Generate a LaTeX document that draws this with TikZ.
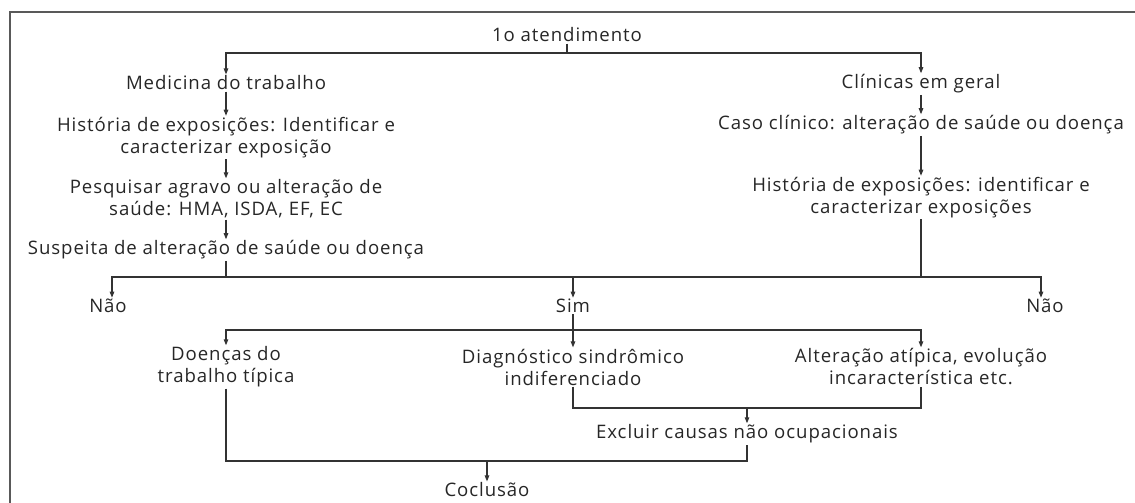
\documentclass[tikz,border=0pt]{standalone}
\usepackage{fontspec}
\setmainfont{Open Sans}[LetterSpace=5]
\usetikzlibrary{arrows.meta}
\begin{document}
\begin{tikzpicture}[x=1pt,y=-1pt,
  lbl/.style={inner sep=1.2pt, align=center, font=\fontsize{18.6}{22}\selectfont, text=black!85},
  ln/.style={line width=1.1pt, draw=black!80},
  arr/.style={ln, -{Triangle[length=6pt,width=4.5pt]}},
]
\useasboundingbox (0,0) rectangle (1135,503);
\draw[line width=2pt, black!65] (9.5,520) -- (9.5,12) -- (1145,12);

\node[lbl] (top) at (567,35) {1o atendimento};
\node[lbl] (med) at (226,83) {Medicina do trabalho};
\node[lbl] (his1) at (226,137.5) {História de exposições: Identificar e\\caracterizar exposição};
\node[lbl] (pes) at (226,199) {Pesquisar agravo ou alteração de\\saúde: HMA, ISDA, EF, EC};
\node[lbl] (sus) at (226,250) {Suspeita de alteração de saúde ou doença};
\node[lbl] (cli) at (921,84) {Clínicas em geral};
\node[lbl] (caso) at (921,125) {Caso clínico: alteração de saúde ou doença};
\node[lbl] (his2) at (921,197.5) {História de exposições: identificar e\\caracterizar exposições};
\node[lbl] (nao1) at (108,306) {Não};
\node[lbl] (sim) at (573,306) {Sim};
\node[lbl] (nao2) at (1045,306) {Não};
\node[lbl] (doe) at (226,367) {Doenças do\\trabalho típica};
\node[lbl] (dia) at (573,367) {Diagnóstico sindrômico\\indiferenciado};
\node[lbl] (alt) at (921,367) {Alteração atípica, evolução\\incaracterística etc.};
\node[lbl] (exc) at (747,434) {Excluir causas não ocupacionais};
\node[lbl] (coc) at (487,490) {Coclusão};

\coordinate (j1) at (567,53);
\draw[ln] (top.south) -- (j1);
\draw[arr] (j1) -| (med.north);
\draw[arr] (j1) -| (cli.north);
\draw[arr] (med) -- (his1);
\draw[arr] (his1) -- (pes);
\draw[arr] (pes) -- (sus);
\draw[arr] (cli) -- (caso);
\draw[arr] (caso) -- (his2);

\coordinate (j2) at (226,277);
\coordinate (j3) at (921,277);
\draw[ln] (sus.south) -- (j2);
\draw[ln] (his2.south) -- (j3);
\draw[ln] (j2) -- (j3);
\draw[arr] (j2) -| ([xshift=4pt]nao1.north);
\draw[arr] (j3) -| ([xshift=-4pt]nao2.north);
\draw[arr] (sim.north |- j2) -- (sim.north);

\coordinate (j4) at (573,330);
\draw[ln] (sim.south) -- (j4);
\draw[arr] (j4) -| (doe.north);
\draw[arr] (j4) -| (alt.north);
\draw[arr] (j4) -- (dia.north);

\coordinate (j5) at (747,408);
\draw[ln] (dia.south) |- (j5) -| (alt.south);
\draw[arr] (j5) -- (exc.north);
\coordinate (j6) at (487,461);
\draw[ln] (doe.south) |- (j6) -| (exc.south);
\draw[arr] (j6) -- (coc.north);
\end{tikzpicture}
\end{document}
